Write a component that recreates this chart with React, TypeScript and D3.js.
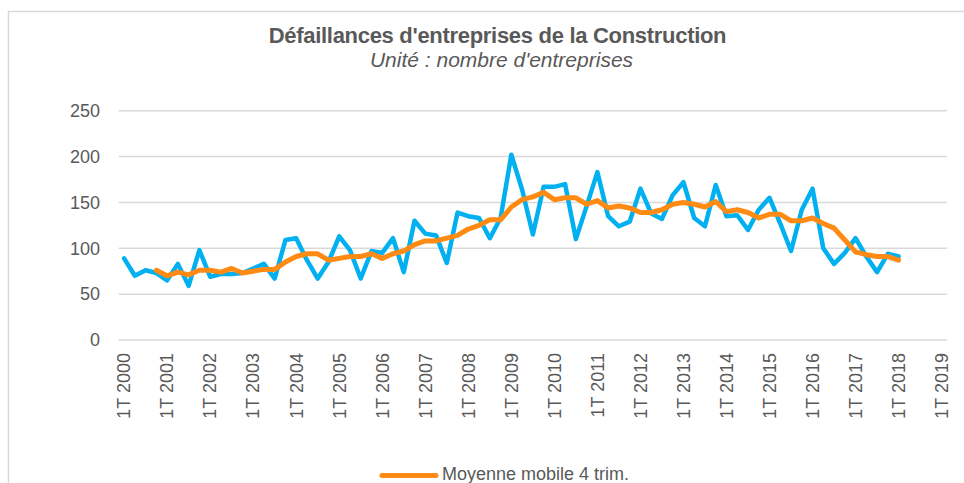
import React from "react";
import * as d3 from "d3";

const title = "Défaillances d'entreprises de la Construction";
const subtitle = "Unité : nombre d'entreprises";
const legendLabel = "Moyenne mobile 4 trim.";

const years = d3.range(2000, 2020);
const categories: string[] = years.flatMap((y) =>
  y === 2019 ? [`1T ${y}`] : [`1T ${y}`, `2T ${y}`, `3T ${y}`, `4T ${y}`]
);
const tickLabels = years.map((y) => `1T ${y}`);
const yTicks = [0, 50, 100, 150, 200, 250];

const defaillances: number[] = [
  89, 70, 76, 73,
  65, 83, 59, 98,
  69, 72, 72, 73,
  78, 83, 67, 109,
  111, 87, 67, 85,
  113, 98, 67, 97,
  95, 111, 74, 130,
  116, 114, 84, 139,
  135, 133, 111, 133,
  202, 164, 115, 167,
  167, 170, 110, 146,
  183, 135, 124, 129,
  165, 138, 132, 158,
  172, 133, 124, 169,
  135, 136, 120, 142,
  155, 127, 97, 142,
  165, 100, 83, 95,
  111, 91, 74, 94,
  91,
];

const moyenneMobile: (number | null)[] = [
  null, null, null, 76,
  70, 74, 71, 76,
  76, 74, 78, 73,
  75, 77, 77, 85,
  91, 94, 94, 87,
  89, 91, 91, 94,
  89, 94, 97, 104,
  108, 108, 111, 114,
  121, 125, 131, 131,
  145, 153, 156, 161,
  153, 155, 155, 148,
  152, 144, 146, 144,
  139, 139, 142, 148,
  150, 148, 145, 151,
  140, 142, 139, 133,
  137, 137, 130, 130,
  133, 127, 122, 109,
  96, 93, 91, 91,
  87,
];

const W = 964;
const H = 483;
const FONT = "'Liberation Sans', Arial, sans-serif";
const TEXT = "#595959";
const GRID = "#D9D9D9";
const BLUE = "#00B0F0";
const ORANGE = "#FF8A14";

export default function App() {
  const x = d3.scaleBand<string>().domain(categories).range([118.7, 947]).padding(0);
  const y = d3.scaleLinear().domain([0, 250]).range([340, 110.7]);
  const cx = (c: string) => (x(c) as number) + x.bandwidth() / 2;

  const lineBlue = d3
    .line<number>()
    .x((_, i) => cx(categories[i]))
    .y((d) => y(d));
  const lineOrange = d3
    .line<number | null>()
    .defined((d) => d !== null)
    .x((_, i) => cx(categories[i]))
    .y((d) => y(d as number));

  return (
    <svg
      width={W}
      height={H}
      style={{ position: "absolute", left: 0, top: 0, background: "#fff" }}
      fontFamily={FONT}
    >
      <rect x={0} y={0} width={W} height={H} fill="#fff" />
      <rect x={8.5} y={11.5} width={W + 20} height={H + 20} fill="none" stroke={GRID} strokeWidth={1.5} />
      <text x={497.5} y={43} textAnchor="middle" fontSize={22} fontWeight="bold" fill={TEXT} letterSpacing={-0.3}>
        {title}
      </text>
      <text x={501.5} y={67} textAnchor="middle" fontSize={21} fontStyle="italic" fill={TEXT}>
        {subtitle}
      </text>
      {yTicks.map((t) => (
        <g key={t}>
          <line x1={118.7} x2={947} y1={y(t)} y2={y(t)} stroke={GRID} strokeWidth={1.5} />
          <text x={100} y={y(t)} dy="0.35em" textAnchor="end" fontSize={18} fill={TEXT}>
            {t}
          </text>
        </g>
      ))}
      {tickLabels.map((l) => (
        <text
          key={l}
          transform={`translate(${cx(l)},353) rotate(-90)`}
          textAnchor="end"
          dy="0.35em"
          fontSize={18}
          fill={TEXT}
        >
          {l}
        </text>
      ))}
      <path d={lineBlue(defaillances) || ""} fill="none" stroke={BLUE} strokeWidth={4.5} strokeLinejoin="round" strokeLinecap="round" />
      <path d={lineOrange(moyenneMobile) || ""} fill="none" stroke={ORANGE} strokeWidth={5} strokeLinejoin="round" strokeLinecap="round" />
      <line x1={382} x2={436} y1={475.5} y2={475.5} stroke={ORANGE} strokeWidth={5} strokeLinecap="round" />
      <text x={442} y={479.5} fontSize={18} fill={TEXT}>
        {legendLabel}
      </text>
    </svg>
  );
}
